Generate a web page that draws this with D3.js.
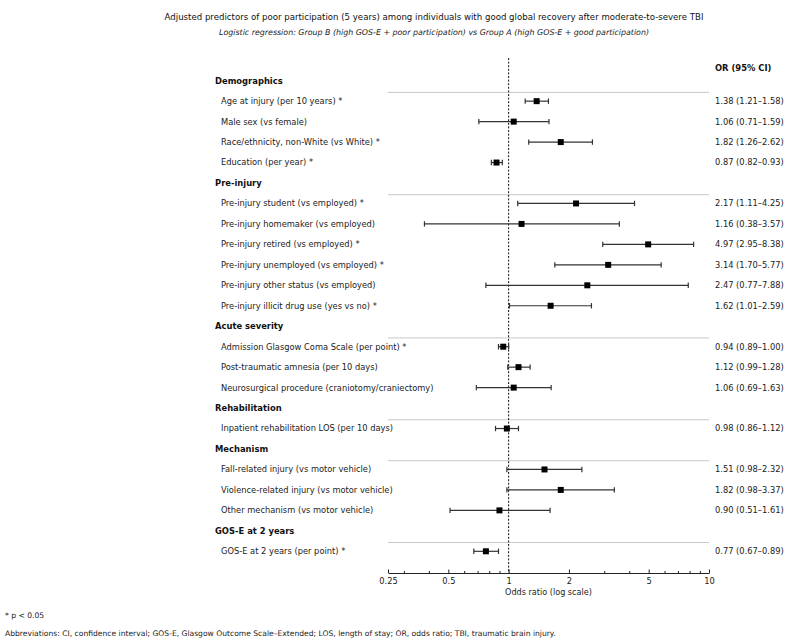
<!DOCTYPE html>
<html>
<head>
<meta charset="utf-8">
<script src="https://cdn.jsdelivr.net/npm/d3@7"></script>
<style>
  body { margin: 0; background: #fff; }
  svg { display: block; font-family: 'DejaVu Sans', sans-serif; }
</style>
</head>
<body>
<svg id="chart" width="794" height="644"></svg>
<script>
// groups and predictors
const groups = ['Demographics', 'Pre-injury', 'Acute severity', 'Rehabilitation', 'Mechanism', 'GOS-E at 2 years'];
const labels = [
  'Age at injury (per 10 years)', 'Male sex (vs female)', 'Race/ethnicity, non-White (vs White)', 'Education (per year)',
  'Pre-injury student (vs employed)', 'Pre-injury homemaker (vs employed)', 'Pre-injury retired (vs employed)',
  'Pre-injury unemployed (vs employed)', 'Pre-injury other status (vs employed)', 'Pre-injury illicit drug use (yes vs no)',
  'Admission Glasgow Coma Scale (per point)', 'Post-traumatic amnesia (per 10 days)', 'Neurosurgical procedure (craniotomy/craniectomy)',
  'Inpatient rehabilitation LOS (per 10 days)',
  'Fall-related injury (vs motor vehicle)', 'Violence-related injury (vs motor vehicle)', 'Other mechanism (vs motor vehicle)',
  'GOS-E at 2 years (per point)',
];
const groupOf = [0, 0, 0, 0, 1, 1, 1, 1, 1, 1, 2, 2, 2, 3, 4, 4, 4, 5];
const sig = [true, false, true, true, true, false, true, true, false, true, true, false, false, false, false, false, false, true];
const or = [1.38, 1.06, 1.82, 0.87, 2.17, 1.16, 4.97, 3.14, 2.47, 1.62, 0.94, 1.12, 1.06, 0.98, 1.51, 1.82, 0.90, 0.77];
const lo = [1.21, 0.71, 1.26, 0.82, 1.11, 0.38, 2.95, 1.70, 0.77, 1.01, 0.89, 0.99, 0.69, 0.86, 0.98, 0.98, 0.51, 0.67];
const hi = [1.58, 1.59, 2.62, 0.93, 4.25, 3.57, 8.38, 5.77, 7.88, 2.59, 1.00, 1.28, 1.63, 1.12, 2.32, 3.37, 1.61, 0.89];
const majorTicks = [0.25, 0.5, 1, 2, 5, 10];
const minorTicks = [0.3, 0.4, 0.6, 0.7, 0.8, 0.9, 3, 4, 6, 7, 8, 9];

const svg = d3.select('#chart');
const plot = { left: 388, right: 709, top: 58, bottom: 573 };

// one slot per header and per predictor, in reading order
const rows = [];
groups.forEach((g, gi) => {
  rows.push({ type: 'header', text: g });
  labels.forEach((l, i) => {
    if (groupOf[i] === gi) rows.push({ type: 'item', i });
  });
});
rows.forEach((r, k) => { r.slot = k; });

const x = d3.scaleLog().domain([0.25, 10]).range([plot.left, plot.right]);
const y = d3.scaleLinear().domain([0, rows.length - 1]).range([80.7, 551.3]);
const fmt = d3.format('.2f');

// titles
svg.append('text')
  .attr('x', 434).attr('y', 20)
  .attr('text-anchor', 'middle')
  .style('font-size', '8.6px').attr('fill', '#111')
  .text('Adjusted predictors of poor participation (5 years) among individuals with good global recovery after moderate-to-severe TBI');
svg.append('text')
  .attr('x', 434).attr('y', 34.5)
  .attr('text-anchor', 'middle')
  .style('font-size', '7.9px').style('font-style', 'italic').attr('fill', '#222')
  .text('Logistic regression: Group B (high GOS-E + poor participation) vs Group A (high GOS-E + good participation)');

// group separators
const headers = rows.filter(r => r.type === 'header');
svg.append('g').selectAll('line')
  .data(headers)
  .enter()
  .append('line')
  .attr('x1', plot.left).attr('x2', plot.right)
  .attr('y1', d => y(d.slot) + 11.7).attr('y2', d => y(d.slot) + 11.7)
  .attr('stroke', '#c8c8c8').attr('stroke-width', 1);

// reference line at OR = 1
svg.append('line')
  .attr('x1', x(1)).attr('x2', x(1))
  .attr('y1', plot.top).attr('y2', plot.bottom)
  .attr('stroke', '#111').attr('stroke-width', 1)
  .attr('stroke-dasharray', '2,1.6');

// headers
svg.append('g').selectAll('text')
  .data(headers)
  .enter()
  .append('text')
  .attr('x', 215).attr('y', d => y(d.slot))
  .attr('dy', '0.35em')
  .style('font-size', '8.4px').style('font-weight', 'bold').attr('fill', '#111')
  .text(d => d.text);

const items = rows.filter(r => r.type === 'item');

// predictor labels
svg.append('g').selectAll('text')
  .data(items)
  .enter()
  .append('text')
  .attr('x', 221).attr('y', d => y(d.slot))
  .attr('dy', '0.35em')
  .style('font-size', '8.3px').attr('fill', '#222')
  .text(d => labels[d.i] + (sig[d.i] ? ' *' : ''));

// CI whiskers
const ci = svg.append('g').selectAll('g')
  .data(items)
  .enter()
  .append('g')
  .attr('stroke', '#333').attr('stroke-width', 1.2);
ci.append('line')
  .attr('x1', d => x(lo[d.i])).attr('x2', d => x(hi[d.i]))
  .attr('y1', d => y(d.slot)).attr('y2', d => y(d.slot));
ci.append('line')
  .attr('x1', d => x(lo[d.i])).attr('x2', d => x(lo[d.i]))
  .attr('y1', d => y(d.slot) - 2.7).attr('y2', d => y(d.slot) + 2.7);
ci.append('line')
  .attr('x1', d => x(hi[d.i])).attr('x2', d => x(hi[d.i]))
  .attr('y1', d => y(d.slot) - 2.7).attr('y2', d => y(d.slot) + 2.7);

// point estimates
svg.append('g').selectAll('rect')
  .data(items)
  .enter()
  .append('rect')
  .attr('x', d => x(or[d.i]) - 3).attr('y', d => y(d.slot) - 3)
  .attr('width', 6).attr('height', 6)
  .attr('fill', '#000');

// right column
svg.append('text')
  .attr('x', 715).attr('y', 68.5)
  .attr('dy', '0.35em')
  .style('font-size', '8.4px').style('font-weight', 'bold').attr('fill', '#111')
  .text('OR (95% CI)');
svg.append('g').selectAll('text')
  .data(items)
  .enter()
  .append('text')
  .attr('x', 715).attr('y', d => y(d.slot))
  .attr('dy', '0.35em')
  .style('font-size', '8.3px').attr('fill', '#222')
  .text(d => `${fmt(or[d.i])} (${fmt(lo[d.i])}–${fmt(hi[d.i])})`);

// x axis (ticks point up into the plot)
const axis = svg.append('g')
  .attr('transform', `translate(0,${plot.bottom})`)
  .call(d3.axisBottom(x).tickValues(majorTicks).tickFormat(d => d)
    .tickSizeInner(-3.5).tickSizeOuter(0).tickPadding(5));
axis.select('.domain').attr('stroke', '#222');
axis.selectAll('.tick line').attr('stroke', '#222');
axis.selectAll('text')
  .style('font-size', '8.3px').style('font-family', 'DejaVu Sans, sans-serif').attr('fill', '#222');

const minor = svg.append('g')
  .attr('transform', `translate(0,${plot.bottom})`)
  .call(d3.axisBottom(x).tickValues(minorTicks).tickFormat('').tickSizeInner(-2).tickSizeOuter(0));
minor.select('.domain').remove();
minor.selectAll('.tick line').attr('stroke', '#222');

svg.append('text')
  .attr('x', (plot.left + plot.right) / 2).attr('y', 595)
  .attr('text-anchor', 'middle')
  .style('font-size', '8.1px').attr('fill', '#222')
  .text('Odds ratio (log scale)');

// footnotes
svg.append('text')
  .attr('x', 5).attr('y', 618)
  .style('font-size', '7.6px').attr('fill', '#222')
  .text('* p < 0.05');
svg.append('text')
  .attr('x', 5).attr('y', 636)
  .style('font-size', '7.6px').attr('fill', '#222')
  .text('Abbreviations: CI, confidence interval; GOS-E, Glasgow Outcome Scale–Extended; LOS, length of stay; OR, odds ratio; TBI, traumatic brain injury.');
</script>
</body>
</html>
